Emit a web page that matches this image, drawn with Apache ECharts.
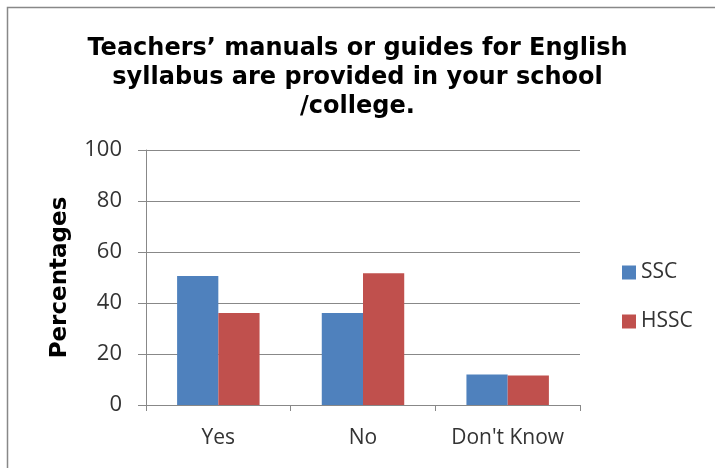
<!DOCTYPE html>
<html lang="en">
<head>
    <meta charset="UTF-8">
    <title>Teachers' manuals chart</title>
    <script src="https://cdn.jsdelivr.net/npm/echarts@6/dist/echarts.min.js"></script>
    <style>
        body { margin: 0; background: #fff; }
        #main { width: 715px; height: 468px; }
    </style>
</head>
<body>
    <div id="main"></div>
    <script type="text/javascript">
        var categories = ['Yes', 'No', "Don't Know"];
        var ssc = [50.6, 36.1, 12.0];
        var hssc = [36.1, 51.7, 11.6];
        var yTicks = [0, 20, 40, 60, 80, 100];

        var myChart = echarts.init(document.getElementById('main'));
        var option = {
            animation: false,
            title: {
                text: 'Teachers\u2019 manuals or guides for English\nsyllabus are provided in your school\n/college.',
                left: 'center',
                top: 29,
                textStyle: {
                    fontFamily: 'DejaVu Sans',
                    fontWeight: 'bold',
                    fontSize: 24,
                    lineHeight: 29,
                    color: '#000'
                }
            },
            graphic: [{
                type: 'rect',
                shape: { x: 7.5, y: 7.5, width: 720, height: 480 },
                style: { fill: 'none', stroke: '#888', lineWidth: 1.5 }
            }],
            legend: {
                orient: 'vertical',
                left: 622,
                top: 262,
                padding: 0,
                itemWidth: 14,
                itemHeight: 14,
                itemGap: 28,
                icon: 'rect',
                textStyle: { fontFamily: 'Open Sans', fontSize: 21, color: '#333' }
            },
            grid: { left: 146, right: 135, top: 150, bottom: 63 },
            xAxis: {
                type: 'category',
                data: categories,
                axisLine: { lineStyle: { color: '#888' } },
                axisTick: { show: true, length: 6, lineStyle: { color: '#888' } },
                axisLabel: { interval: 0, fontFamily: 'Open Sans', fontSize: 21, color: '#333', margin: 23 }
            },
            yAxis: {
                type: 'value',
                min: 0,
                max: 100,
                interval: 20,
                name: 'Percentages',
                nameLocation: 'middle',
                nameGap: 74,
                nameTextStyle: { fontFamily: 'DejaVu Sans', fontWeight: 'bold', fontSize: 23, color: '#000' },
                axisLine: { show: true, lineStyle: { color: '#888' } },
                axisTick: { show: true, length: 8, lineStyle: { color: '#888' } },
                axisLabel: {
                    fontFamily: 'Open Sans', fontSize: 22, color: '#333', margin: 24,
                    formatter: function (v) { return yTicks.indexOf(v) >= 0 ? v : ''; }
                },
                splitLine: { lineStyle: { color: '#888', width: 1.2 } }
            },
            series: [{
                name: 'SSC',
                type: 'bar',
                data: ssc,
                barGap: '0%',
                barCategoryGap: '43%',
                itemStyle: { color: '#4F81BD' }
            }, {
                name: 'HSSC',
                type: 'bar',
                data: hssc,
                itemStyle: { color: '#C0504D' }
            }]
        };
        myChart.setOption(option);
    </script>
</body>
</html>
